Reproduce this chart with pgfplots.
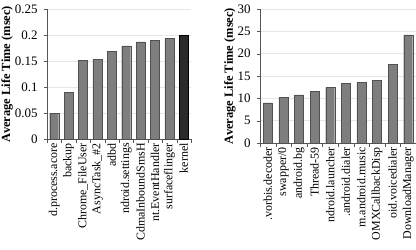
\documentclass[border=0pt]{standalone}
\usepackage{fontspec}
\setmainfont{Liberation Serif}
\usepackage{pgfplots}
\pgfplotsset{compat=1.18}
\definecolor{barfill}{HTML}{7E7E7E}
\definecolor{baredge}{HTML}{505050}
\definecolor{darkbar}{HTML}{2A2A2A}
\definecolor{axisc}{HTML}{555555}
\definecolor{gridc}{HTML}{E6E6E6}
\pgfplotsset{mystyle/.style={
  scale only axis,
  axis lines*=left,
  axis line style={axisc},
  ymajorgrids, grid style={gridc, line width=0.8pt},
  xmin=-0.5, xmax=9.5, ymin=0,
  xtick={0,...,9},
  major x tick style={draw=none},
  minor xtick={-0.5,0.5,...,9.5},
  minor tick length=4bp,
  major tick length=3bp,
  tick align=outside,
  tick pos=left,
  tick style={axisc},
  x tick label style={rotate=90, anchor=east, inner sep=1bp, font=\fontsize{12}{14}\selectfont},
  y tick label style={font=\fontsize{13}{15}\selectfont, xshift=-3bp},
  ylabel={\textbf{Average Life Time (msec)}},
  ylabel style={font=\fontsize{12.5}{15}\selectfont, yshift=-5bp},
  /pgf/number format/assume math mode=true,
  scaled y ticks=false,
  ybar, bar width=9bp, bar shift=0pt,
}}
\begin{document}
\begin{tikzpicture}
\begin{axis}[mystyle, at={(0,0)}, anchor=north west,
  width=144bp, height=130bp, ymax=0.25,
  ytick={0,0.05,0.1,0.15,0.2,0.25},
  yticklabels={0,0.05,0.1,0.15,0.2,0.25},
  xticklabels={d.process.acore,backup,Chrome\_FileUser,AsyncTask\_\#2,adbd,ndroid.settings,CdmaInboundSmsH,nt.EventHandler,surfaceflinger,kernel}]
\addplot[fill=barfill, draw=baredge] coordinates {(0,0.0496) (1,0.0898) (2,0.151) (3,0.153) (4,0.168) (5,0.179) (6,0.187) (7,0.190) (8,0.194)};
\addplot[fill=darkbar, draw=black] coordinates {(9,0.2005)};
\end{axis}
\begin{axis}[mystyle, at={(213bp,0)}, anchor=north west,
  width=156bp, height=134bp, ymax=30,
  ytick={0,5,10,15,20,25,30},
  xticklabels={.vorbis.decoder,swapper/0,android.bg,Thread-59,ndroid.launcher,.android.dialer,m.android.music,OMXCallbackDisp,oid.voicedialer,DownloadManager}]
\addplot[fill=barfill, draw=baredge] coordinates {(0,9.0) (1,10.2) (2,10.75) (3,11.55) (4,12.4) (5,13.35) (6,13.57) (7,14.1) (8,17.6) (9,24.2)};
\end{axis}
\pgfresetboundingbox
\useasboundingbox (-47bp,9bp) rectangle (369bp,-241bp);
\end{tikzpicture}
\end{document}
